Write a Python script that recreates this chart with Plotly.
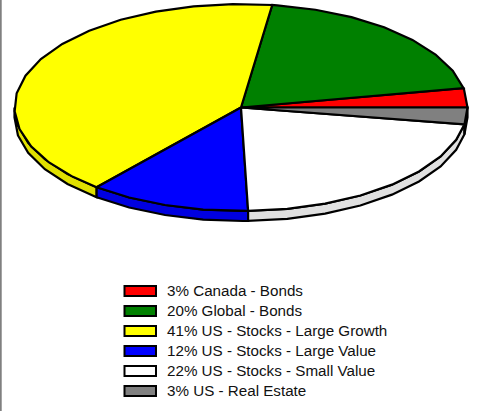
import math
import plotly.graph_objects as go

categories = ["Canada - Bonds", "Global - Bonds", "US - Stocks - Large Growth",
              "US - Stocks - Large Value", "US - Stocks - Small Value", "US - Real Estate"]
percent_labels = [3, 20, 41, 12, 22, 3]
slice_values = [3.0, 19.8, 41.2, 11.5, 21.9, 2.6]
top_colors = ["#ff0000", "#008000", "#ffff00", "#0000ff", "#ffffff", "#808080"]
side_colors = ["#e00000", "#007000", "#e0e000", "#0000e0", "#e0e0e0", "#707070"]

CX, CY, RX, RY, DEPTH = 241, 107.5, 226.5, 103.5, 10
STEP = 10.0


def arc(a0, a1):
    n = max(1, math.ceil((a1 - a0) / STEP))
    return [a0 + STEP * i for i in range(n)] + [a1]


def ex(a):
    return CX + RX * math.cos(math.radians(a))


def ey(a, d=0):
    return CY - RY * math.sin(math.radians(a)) + d


fig = go.Figure()
total = sum(slice_values)
bounds = [0.0]
for v in slice_values:
    bounds.append(bounds[-1] + v / total * 360)

# side walls of the disc
for i, cat in enumerate(categories):
    a0, a1 = max(bounds[i], 180), max(bounds[i + 1], 180)
    if a1 <= a0:
        continue
    pts = arc(a0, a1)
    xs = [ex(a) for a in pts] + [ex(a) for a in reversed(pts)] + [ex(pts[0])]
    ys = [ey(a) for a in pts] + [ey(a, DEPTH) for a in reversed(pts)] + [ey(pts[0])]
    fig.add_trace(go.Scatter(x=xs, y=ys, mode="lines", fill="toself", fillcolor=side_colors[i],
                             line=dict(color="black", width=2.2), showlegend=False,
                             hoverinfo="skip"))

# top faces
for i, cat in enumerate(categories):
    pts = arc(bounds[i], bounds[i + 1])
    xs = [CX] + [ex(a) for a in pts] + [CX]
    ys = [CY] + [ey(a) for a in pts] + [CY]
    fig.add_trace(go.Scatter(x=xs, y=ys, mode="lines", fill="toself", fillcolor=top_colors[i],
                             line=dict(color="black", width=2.2), name=cat, showlegend=False,
                             hoverinfo="name"))

# legend
shapes = [dict(type="line", xref="paper", yref="paper", x0=0.0015, x1=0.0015, y0=0, y1=1,
               line=dict(color="#808080", width=2))]
annotations = []
for i, cat in enumerate(categories):
    yc = 291 + 20 * i
    shapes.append(dict(type="rect", xref="x", yref="y", x0=124.5, x1=156, y0=yc - 5, y1=yc + 5,
                       fillcolor=top_colors[i], line=dict(color="black", width=2)))
    annotations.append(dict(x=164.5, y=yc - 1, xref="x", yref="y", xanchor="left", yanchor="middle",
                            text=f"{percent_labels[i]}% {cat}", showarrow=False,
                            font=dict(family="Liberation Sans", size=15.2, color="#111111")))

fig.update_layout(
    width=478, height=411, margin=dict(l=0, r=0, t=0, b=0),
    paper_bgcolor="white", plot_bgcolor="white", showlegend=False,
    xaxis=dict(range=[0, 478], visible=False, fixedrange=True),
    yaxis=dict(range=[411, 0], visible=False, fixedrange=True),
    shapes=shapes, annotations=annotations,
)
fig.write_html("out.html", post_script="document.body.style.margin='0';", config={"displayModeBar": False})
